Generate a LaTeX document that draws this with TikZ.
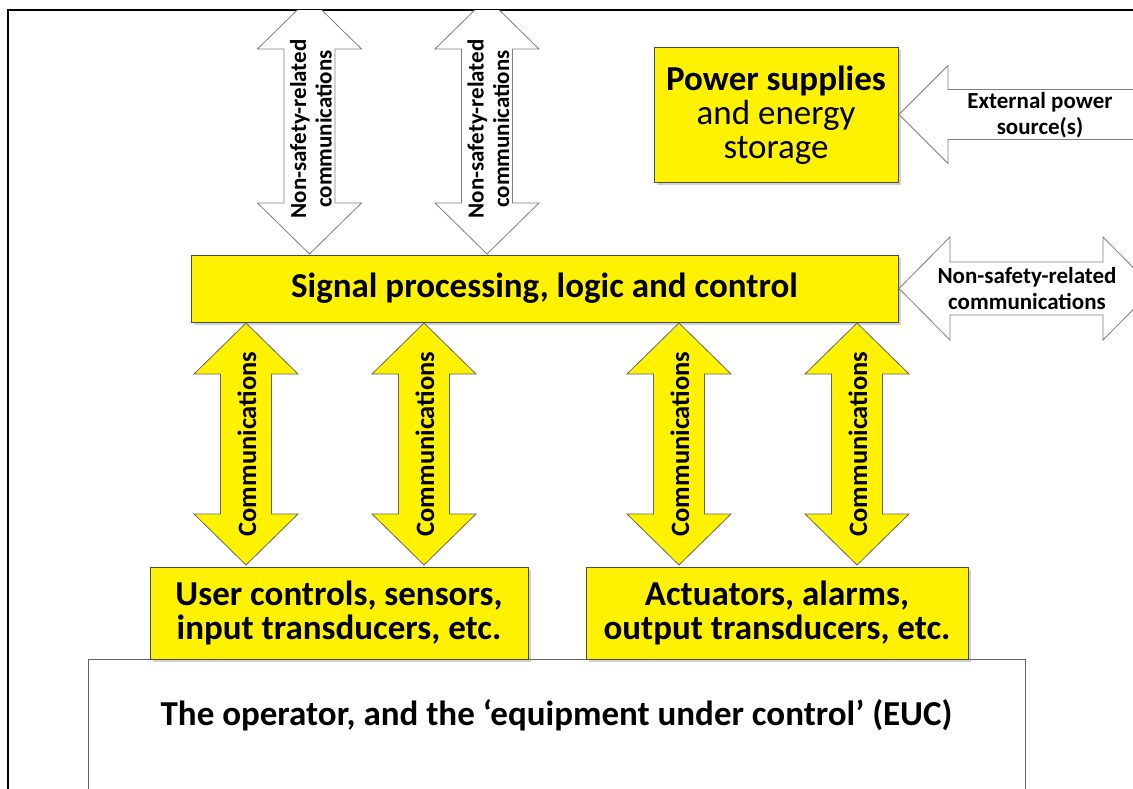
\documentclass[tikz,border=0pt]{standalone}
\usepackage{fontspec}
\setmainfont{Carlito}
\usetikzlibrary{shadows}
\newcommand{\vdarr}[4]{%
  \draw[#1] (#2,#3) -- (#2+52,#3+51) -- (#2+25.5,#3+51) -- (#2+25.5,#4-51) -- (#2+52,#4-51) -- (#2,#4)
    -- (#2-52,#4-51) -- (#2-25.5,#4-51) -- (#2-25.5,#3+51) -- (#2-52,#3+51) -- cycle;}
\begin{document}
\begin{tikzpicture}[x=1pt,y=-1pt,
  box/.style={draw=black!70, line width=1pt, fill=yellow, inner sep=0pt, align=center,
    drop shadow={shadow xshift=2.5pt, shadow yshift=-2.5pt, opacity=0.35}},
  warrow/.style={draw=black!50, line width=0.8pt, fill=white, line join=miter},
  yarrow/.style={draw=black!60, line width=0.8pt, fill=yellow, line join=miter},
  bigb/.style={font=\bfseries\fontsize{35}{33.5}\selectfont},
  lab/.style={font=\bfseries\fontsize{23}{25.5}\selectfont, align=center, inner sep=0pt},
  clab/.style={font=\bfseries\fontsize{26.5}{30}\selectfont, rotate=90, inner sep=0pt}
]
\useasboundingbox (0,0) rectangle (1133,789);
\fill[white] (0,0) rectangle (1133,789);

% outer frame
\draw[line width=1.5pt, black] (8,800) -- (8,10) -- (1140,10);

% top non-safety arrows (clipped by frame)
\begin{scope}
  \clip (9,10.8) rectangle (1133,789);
  \vdarr{warrow}{309.5}{-2}{254}
  \vdarr{warrow}{487}{-2}{254}
\end{scope}
\node[lab, rotate=90] (nsr1) at (311,129) {Non-safety-related\\communications};
\node[lab, rotate=90] (nsr2) at (488.5,129) {Non-safety-related\\communications};

% power supplies
\node[box, minimum width=244pt, minimum height=135pt, font=\fontsize{35}{34}\selectfont] (power) at (776,115.5)
  {\textbf{Power supplies}\\and energy\\storage};

% external power arrow
\draw[warrow] (899,114.5) -- (948,65.5) -- (948,89.5) -- (1150,89.5) -- (1150,139.5) -- (948,139.5) -- (948,163.5) -- cycle;
\node[lab] (ext) at (1040,115) {External power\\source(s)};

% signal processing
\node[box, minimum width=707pt, minimum height=67pt, bigb] (sig) at (544.5,288.5)
  {Signal processing, logic and control};

% right non-safety arrow
\draw[warrow] (899,288.5) -- (950,237) -- (950,262) -- (1103,262) -- (1103,237) -- (1154,288.5)
  -- (1103,340) -- (1103,315) -- (950,315) -- (950,340) -- cycle;
\node[lab] (nsr3) at (1027,288.5) {Non-safety-related\\communications};

% operator / EUC
\node[draw=black!60, line width=0.8pt, fill=white, minimum width=937pt, minimum height=142pt, inner sep=0pt] (euc) at (556.5,730) {};
\node[bigb, inner sep=0pt] (euclab) at (556.5,715)
  {The operator, and the ‘equipment under control’ (EUC)};

% user / actuators
\node[box, minimum width=378pt, minimum height=92pt, bigb] (user) at (339,613)
  {User controls, sensors,\\input transducers, etc.};
\node[box, minimum width=382pt, minimum height=92pt, bigb] (act) at (777,613)
  {Actuators, alarms,\\output transducers, etc.};

% communications arrows
\vdarr{yarrow}{246}{323}{565}
\vdarr{yarrow}{424}{323}{565}
\vdarr{yarrow}{679}{323}{565}
\vdarr{yarrow}{857}{323}{565}
\node[clab] (c1) at (247,444) {Communications};
\node[clab] (c2) at (425,444) {Communications};
\node[clab] (c3) at (680,444) {Communications};
\node[clab] (c4) at (858,444) {Communications};
\end{tikzpicture}
\end{document}
